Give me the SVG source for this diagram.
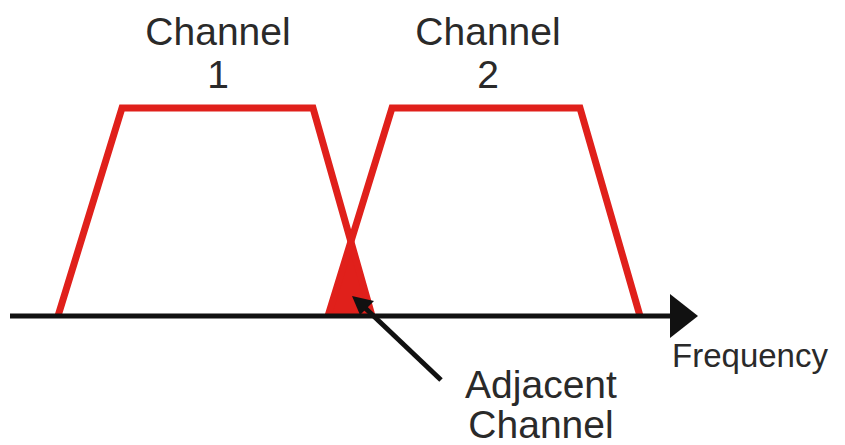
<svg xmlns="http://www.w3.org/2000/svg" width="845" height="445" viewBox="0 0 845 445">
<style>
.t{font-family:"Liberation Sans",Arial,sans-serif;fill:#2a2a2a;text-anchor:middle}
.big{font-size:39px}
.mid{font-size:33px}
.ch{fill:none;stroke:#e0201b;stroke-width:7;stroke-linejoin:miter}
.ax{stroke:#111;stroke-width:5;fill:none}
</style>
<defs>
<marker id="ah" viewBox="0 0 10 10" refX="9" refY="5" markerWidth="5" markerHeight="5" orient="auto" markerUnits="strokeWidth">
<path d="M0,0 L10,5 L0,10 z" fill="#111"/>
</marker>
</defs>
<g id="overlap">
<polygon points="350.9,241.6 328,316 372,316" fill="#e0201b"/>
</g>
<g id="channel1">
<polyline class="ch" points="58,316 122,108 313,108 372,316"/>
<text class="t big" x="218" y="45">Channel</text>
<text class="t big" x="218" y="88">1</text>
</g>
<g id="channel2">
<polyline class="ch" points="328,316 392,108 580,108 640,316"/>
<text class="t big" x="488" y="45">Channel</text>
<text class="t big" x="488" y="88">2</text>
</g>
<g id="connectors">
<line x1="10" y1="316" x2="675" y2="316" class="ax"/>
<polygon points="670,294 698,316 670,338" fill="#111"/>
<line x1="441" y1="380" x2="362" y2="305" stroke="#111" stroke-width="5"/>
<polygon points="352,296 374,301 360,315" fill="#111"/>
</g>
<g id="frequency">
<text class="t mid" x="750" y="367">Frequency</text>
</g>
<g id="adjacent">
<text class="t big" x="541" y="398">Adjacent</text>
<text class="t big" x="541" y="438">Channel</text>
</g>
</svg>
